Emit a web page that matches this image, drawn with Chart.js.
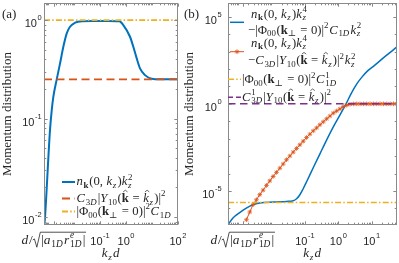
<!DOCTYPE html>
<html>
<head>
<meta charset="utf-8">
<script src="https://cdn.jsdelivr.net/npm/chart.js@4"></script>
<style>
  html, body { margin: 0; padding: 0; background: #fff; }
  #wrap { position: relative; width: 399px; height: 263px; }
  canvas { position: absolute; left: 0; top: 0; }
</style>
</head>
<body>
<div id="wrap">
  <canvas id="chartA" width="399" height="263"></canvas>
  <canvas id="chartB" width="399" height="263"></canvas>
</div>
<script>
// ---- panel (a) data ----
const aBlueX = [7.0e-4, 7.67e-4, 1.19e-3, 1.39e-3, 1.60e-3, 2.16e-3, 2.90e-3, 3.88e-3, 5.24e-3, 7.0e-3, 0.011, 0.020, 0.05, 0.2, 0.55, 0.787, 1.426, 1.91, 2.58, 3.45, 5.38, 9.73, 20, 100];
const aBlueY = [0.0075, 0.01, 0.0764, 0.122, 0.166, 0.25, 0.363, 0.535, 0.733, 0.855, 0.94, 0.975, 0.98, 0.98, 0.97, 0.89, 0.677, 0.535, 0.408, 0.323, 0.276, 0.2535, 0.25, 0.25];
const aC3D = 0.25;      // C_3D |Y10|^2
const aPhiC1D = 1.0;    // |Phi00|^2 C_1D
const aXRange = [7e-4, 100];
const aYRange = [0.0083, 1.49];
const aXTicks = [0.1, 1, 100];
const aYTicks = [0.01, 0.1, 1];
const aDTick = 1.7e-3;  // d/sqrt(|a r|)

// ---- panel (b) data ----
const bBlueX = [5.0e-4, 7.03e-4, 1.117e-3, 1.77e-3, 2.80e-3, 4.46e-3, 0.01117, 0.0282, 0.0446, 0.0564, 0.0708, 0.0889, 0.1125, 0.1775, 0.282, 0.449, 0.708, 1.124, 1.70, 2.40, 3.57, 5.15, 7.28, 11.2, 25.2, 57];
const bBlueY = [1.16e-7, 2.82e-7, 5.7e-7, 1.05e-6, 1.63e-6, 2.04e-6, 2.33e-6, 2.52e-6, 2.76e-6, 3.6e-6, 6.1e-6, 1.35e-5, 3.39e-5, 2.15e-4, 1.36e-3, 8.65e-3, 0.0481, 0.234, 1.0, 3.74, 14.0, 35.3, 72.8, 141, 527, 1846];
const bRedX = [1.78e-3, 2.24e-3, 2.82e-3, 3.55e-3, 4.47e-3, 5.62e-3, 7.08e-3, 8.91e-3, 0.0112, 0.0141, 0.0178, 0.0224, 0.0282, 0.0355, 0.0447, 0.0562, 0.0708, 0.0891, 0.112, 0.141, 0.178, 0.224, 0.282, 0.355, 0.447, 0.562, 0.708, 0.891, 1.12, 1.41, 1.78, 2.24, 2.82, 3.55, 4.47, 5.62, 7.08, 8.91, 11.2, 14.1, 17.8, 22.4, 28.2, 35.5, 44.7, 56.2];
const bRedY = [2.24e-7, 6.2e-7, 1.66e-6, 3.16e-6, 6.2e-6, 1.12e-5, 2.09e-5, 3.8e-5, 6.8e-5, 1.17e-4, 2.04e-4, 3.55e-4, 6.2e-4, 1.02e-3, 1.70e-3, 2.75e-3, 4.47e-3, 7.2e-3, 0.0117, 0.0182, 0.0282, 0.0417, 0.0631, 0.0933, 0.138, 0.200, 0.295, 0.389, 0.513, 0.692, 0.832, 0.955, 0.99, 1, 1, 1, 1, 1, 1, 1, 1, 1, 1, 1, 1, 1];
const bPhiC1D1 = 2.2e-6;  // |Phi00|^2 C^1_1D
const bC3D1 = 1.0;        // C^1_3D |Y10|^2
const bXRange = [5e-4, 57];
const bYRange = [1.12e-7, 6.1e5];
const bXTicks = [0.1, 1, 10];
const bYTicks = [1e-5, 1, 1e5];
const bDTick = 1.4e-3;

const BLUE = '#0072BD', RED = '#D95319', YEL = '#EDB120', PUR = '#7E2F8E';
const SERIF = '"Liberation Serif", "DejaVu Serif", serif';
const SANS = '"Liberation Sans", Arial, sans-serif';
const TXT = '#262626';
const DASH = [8, 4.5];
const DASHDOT = [6, 2.2, 1.5, 2.2];
const LEG = 12.7;

const pts = (xs, ys) => xs.map((x, i) => ({ x, y: ys[i] }));
const hline = (range, v) => [{ x: range[0], y: v }, { x: range[1], y: v }];

// ---- small math text renderer (sub/superscripts, bold, hats, sqrt) ----
function fontFor(ch, size, bold) {
  if (bold) return `bold ${size}px ${SERIF}`;
  if (/[A-Za-z]/.test(ch)) return `italic ${size}px ${SERIF}`;
  return `${size}px ${SERIF}`;
}

function readGroup(s, i) {
  if (s[i] === '{') {
    let d = 1, j = i + 1;
    while (j < s.length && d > 0) {
      if (s[j] === '{') d++;
      else if (s[j] === '}') d--;
      j++;
    }
    return [s.slice(i + 1, j - 1), j];
  }
  return [s[i], i + 1];
}

function mathRun(ctx, s, x, y, size, draw) {
  let cx = x, i = 0;
  while (i < s.length) {
    let c = s[i];
    if (c === '_' || c === '^') {
      let sub = null, sup = null, g;
      [g, i] = readGroup(s, i + 1);
      if (c === '_') sub = g; else sup = g;
      if ((s[i] === '_' && sub === null) || (s[i] === '^' && sup === null)) {
        const c2 = s[i];
        [g, i] = readGroup(s, i + 1);
        if (c2 === '_') sub = g; else sup = g;
      }
      const ss = size * 0.7;
      let w = 0;
      if (sub !== null) w = Math.max(w, mathRun(ctx, sub, cx, y + size * 0.22, ss, draw));
      if (sup !== null) w = Math.max(w, mathRun(ctx, sup, cx, y - size * 0.42, ss, draw));
      cx += w + size * 0.05;
      continue;
    }
    if (c === ' ') { cx += size * 0.28; i++; continue; }
    if (c === '√') {
      let g;
      [g, i] = readGroup(s, i + 1);
      const inner = mathRun(ctx, g, 0, 0, size, false);
      const gx = cx + size * 0.62;
      if (draw) {
        ctx.save();
        ctx.lineWidth = size * 0.06;
        ctx.strokeStyle = ctx.fillStyle;
        ctx.beginPath();
        ctx.moveTo(cx, y - size * 0.3);
        ctx.lineTo(cx + size * 0.12, y - size * 0.38);
        ctx.lineTo(cx + size * 0.3, y + size * 0.24);
        ctx.lineTo(cx + size * 0.56, y - size * 0.88);
        ctx.lineTo(gx + inner + size * 0.05, y - size * 0.88);
        ctx.stroke();
        ctx.restore();
      }
      mathRun(ctx, g, gx, y, size, draw);
      cx = gx + inner + size * 0.08;
      continue;
    }
    let bold = false, hat = false;
    while (s[i] === '~' || s[i] === '*') {
      if (s[i] === '~') hat = true; else bold = true;
      i++;
    }
    c = s[i]; i++;
    ctx.font = fontFor(c, size, bold);
    const italic = !bold && /[A-Za-z]/.test(c);
    const w = ctx.measureText(c).width + (italic ? size * 0.06 : 0);
    if (draw) {
      ctx.fillText(c, cx, y);
      if (hat) {
        const hx = cx + w * 0.5 + (bold ? 0 : size * 0.06), hy = y - size * 0.78;
        ctx.save();
        ctx.lineWidth = size * 0.055;
        ctx.strokeStyle = ctx.fillStyle;
        ctx.beginPath();
        ctx.moveTo(hx - size * 0.17, hy);
        ctx.lineTo(hx, hy - size * 0.13);
        ctx.lineTo(hx + size * 0.17, hy);
        ctx.stroke();
        ctx.restore();
      }
    }
    cx += w;
  }
  return cx - x;
}

function math(ctx, s, x, y, size, align) {
  ctx.textAlign = 'left';
  ctx.textBaseline = 'alphabetic';
  let x0 = x;
  if (align) {
    const w = mathRun(ctx, s, 0, 0, size, false);
    x0 = align === 'center' ? x - w / 2 : x - w;
  }
  mathRun(ctx, s, x0, y, size, true);
}

function powLabel(ctx, e, x, base, align) {
  const b = '10', ex = String(e);
  ctx.textAlign = 'left';
  ctx.textBaseline = 'alphabetic';
  ctx.font = `11px ${SANS}`;
  const wb = ctx.measureText(b).width;
  ctx.font = `7.5px ${SANS}`;
  const we = ctx.measureText(ex).width;
  const w = wb + 0.6 + we;
  const x0 = align === 'right' ? x - w : x - w / 2;
  ctx.font = `11px ${SANS}`;
  ctx.fillText(b, x0, base);
  ctx.font = `7.5px ${SANS}`;
  ctx.fillText(ex, x0 + wb + 0.6, base - 7);
}

function tickVals(min, max, minors) {
  const out = [];
  for (let d = Math.floor(Math.log10(min)); d <= Math.ceil(Math.log10(max)); d++) {
    const ms = minors ? [1, 2, 3, 4, 5, 6, 7, 8, 9] : [1];
    ms.forEach(m => {
      const v = m * Math.pow(10, d);
      if (v >= min && v <= max) out.push(v);
    });
  }
  return out;
}

function frame(chart, o) {
  const { ctx, chartArea: a } = chart;
  const xs = chart.scales.x, ys = chart.scales.y;
  const L = Math.round(a.left) + 0.5, R = Math.round(a.right) - 0.5;
  const T = Math.round(a.top) + 0.5, B = Math.round(a.bottom) - 0.5;
  ctx.save();
  ctx.strokeStyle = '#8a8a8a';
  ctx.lineWidth = 1;
  ctx.beginPath();
  const isMajor = (v, list) => list.some(t => Math.abs(Math.log10(t) - Math.log10(v)) < 1e-6);
  tickVals(xs.min, xs.max, true).concat([o.dTick]).forEach(v => {
    const px = Math.round(xs.getPixelForValue(v)) + 0.5;
    const len = isMajor(v, o.xTicks.concat([o.dTick])) ? 3.2 : 1.8;
    ctx.moveTo(px, B); ctx.lineTo(px, B - len);
    ctx.moveTo(px, T); ctx.lineTo(px, T + len);
  });
  tickVals(ys.min, ys.max, o.yMinors).forEach(v => {
    const py = Math.round(ys.getPixelForValue(v)) + 0.5;
    const len = isMajor(v, o.yTicks) ? 3.2 : 1.8;
    ctx.moveTo(L, py); ctx.lineTo(L + len, py);
    ctx.moveTo(R, py); ctx.lineTo(R - len, py);
  });
  ctx.stroke();
  ctx.strokeRect(L, T, R - L, B - T);
  ctx.restore();

  ctx.save();
  ctx.fillStyle = TXT;
  o.yTicks.forEach(v => powLabel(ctx, Math.round(Math.log10(v)), o.yLabRight, ys.getPixelForValue(v) + 7, 'right'));
  o.xTicks.forEach(v => powLabel(ctx, Math.round(Math.log10(v)), xs.getPixelForValue(v), 245, 'center'));
  math(ctx, 'd/√{|a_{1D}r^e_{1D}|}', xs.getPixelForValue(o.dTick), 244, 13.4, 'center');
  math(ctx, 'k_zd', (a.left + a.right) / 2, 257, 13, 'center');
  ctx.font = `13px ${SERIF}`;
  ctx.textAlign = 'left';
  ctx.textBaseline = 'alphabetic';
  ctx.fillText(o.panel, o.panelX, 17.5);
  ctx.translate(o.yTitleX, (a.top + a.bottom) / 2);
  ctx.rotate(-Math.PI / 2);
  ctx.textAlign = 'center';
  ctx.textBaseline = 'middle';
  ctx.fillText('Momentum distribution', 0, 0);
  ctx.restore();
}

function star(ctx, x, y, r) {
  ctx.beginPath();
  for (let k = 0; k < 4; k++) {
    const t = k * Math.PI / 4;
    ctx.moveTo(x - r * Math.cos(t), y - r * Math.sin(t));
    ctx.lineTo(x + r * Math.cos(t), y + r * Math.sin(t));
  }
  ctx.stroke();
}

function sample(ctx, x0, x1, y, color, width, dash, withStar) {
  ctx.save();
  ctx.strokeStyle = color;
  ctx.lineWidth = width;
  ctx.setLineDash(dash || []);
  ctx.beginPath();
  ctx.moveTo(x0, y); ctx.lineTo(x1, y);
  ctx.stroke();
  if (withStar) {
    ctx.setLineDash([]);
    ctx.lineWidth = 0.8;
    star(ctx, (x0 + x1) / 2, y, 2.4);
  }
  ctx.restore();
}

function baseOptions(xr, yr, padding) {
  return {
    responsive: false,
    animation: false,
    devicePixelRatio: 1,
    layout: { padding, autoPadding: false },
    plugins: { legend: { display: false }, tooltip: { enabled: false } },
    elements: { point: { radius: 0 } },
    scales: {
      x: { type: 'logarithmic', min: xr[0], max: xr[1], display: false },
      y: { type: 'logarithmic', min: yr[0], max: yr[1], display: false }
    }
  };
}

// ---- panel (a) ----
new Chart(document.getElementById('chartA'), {
  type: 'line',
  data: {
    datasets: [
      { data: hline(aXRange, aPhiC1D), borderColor: YEL, borderWidth: 1.8, borderDash: DASHDOT, order: 1 },
      { data: hline(aXRange, aC3D), borderColor: RED, borderWidth: 1.8, borderDash: DASH, order: 2 },
      { data: pts(aBlueX, aBlueY), borderColor: BLUE, borderWidth: 2, cubicInterpolationMode: 'monotone', order: 3 }
    ]
  },
  options: baseOptions(aXRange, aYRange, { left: 44, right: 399 - 178, top: 3, bottom: 38 }),
  plugins: [{
    id: 'decorA',
    afterDraw(chart) {
      frame(chart, { xTicks: aXTicks, yTicks: aYTicks, dTick: aDTick, yMinors: true, yLabRight: 41.7, panel: '(a)', panelX: 2, yTitleX: 8 });
      const ctx = chart.ctx;
      ctx.save();
      ctx.fillStyle = TXT;
      sample(ctx, 62, 75, 182, BLUE, 2);
      math(ctx, 'n_{*k}(0, k_z)k_z^2', 76.5, 185.3, LEG);
      sample(ctx, 62, 75, 198.5, RED, 1.8, DASH);
      math(ctx, 'C_{3D}|Y_{10}(~*k = ~k_z)|^2', 76.5, 201.8, LEG);
      sample(ctx, 62, 75, 211.5, YEL, 1.8, DASHDOT);
      math(ctx, '|Φ_{00}(*k_{⊥} = 0)|^2C_{1D}', 76.5, 214.8, LEG);
      ctx.restore();
    }
  }]
});

// ---- panel (b) ----
new Chart(document.getElementById('chartB'), {
  type: 'line',
  data: {
    datasets: [
      { data: hline(bXRange, bC3D1), borderColor: PUR, borderWidth: 1.5, borderDash: [7.5, 4.5], order: 1 },
      { data: hline(bXRange, bPhiC1D1), borderColor: YEL, borderWidth: 1.5, borderDash: DASHDOT, order: 2 },
      { data: pts(bRedX, bRedY), borderColor: RED, borderWidth: 1, pointStyle: 'star', pointRadius: 2.3, pointBorderWidth: 0.8, pointBorderColor: RED, order: 3 },
      { data: pts(bBlueX, bBlueY), borderColor: BLUE, borderWidth: 1.5, cubicInterpolationMode: 'monotone', order: 4 }
    ]
  },
  options: baseOptions(bXRange, bYRange, { left: 228, right: 2, top: 3, bottom: 38 }),
  plugins: [{
    id: 'decorB',
    afterDraw(chart) {
      frame(chart, { xTicks: bXTicks, yTicks: bYTicks, dTick: bDTick, yMinors: false, yLabRight: 221.7, panel: '(b)', panelX: 184, yTitleX: 190 });
      const ctx = chart.ctx;
      ctx.save();
      ctx.fillStyle = TXT;
      sample(ctx, 230, 244, 22.3, BLUE, 1.5);
      math(ctx, 'n_{*k}(0, k_z)k_z^4', 251, 17.5, LEG);
      math(ctx, '−|Φ_{00}(*k_{⊥} = 0)|^2C_{1D}k_z^2', 248, 33.5, LEG);
      sample(ctx, 230, 244, 51.7, RED, 1, null, true);
      math(ctx, 'n_{*k}(0, k_z)k_z^4', 251, 46.5, LEG);
      math(ctx, '−C_{3D}|Y_{10}(~*k = ~k_z)|^2k_z^2', 248, 64, LEG);
      sample(ctx, 228, 241, 79.3, YEL, 1.5, DASHDOT);
      math(ctx, '|Φ_{00}(*k_{⊥} = 0)|^2C^1_{1D}', 242, 83.3, LEG);
      sample(ctx, 228, 241, 97.3, PUR, 1.5, [5, 3]);
      math(ctx, 'C^1_{3D}|Y_{10}(~*k = ~k_z)|^2', 242, 100.5, LEG);
      ctx.restore();
    }
  }]
});
</script>
</body>
</html>
